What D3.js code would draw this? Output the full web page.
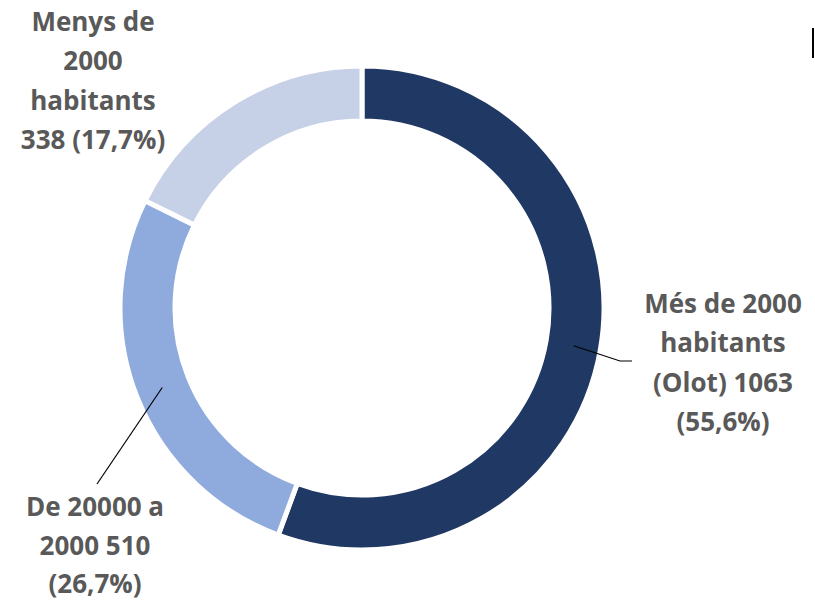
<!DOCTYPE html>
<html>
<head>
<meta charset="utf-8">
<script src="https://cdn.jsdelivr.net/npm/d3@7"></script>
<style>
  body { margin: 0; background: #fff; }
  svg text { font-family: "Open Sans", sans-serif; font-weight: bold; fill: #595959; }
</style>
</head>
<body>
<div id="container"></div>
<script>
const categories = ["Més de 2000 habitants (Olot)", "De 20000 a 2000", "Menys de 2000 habitants"];
const values     = [1063, 510, 338];
const percents   = ["55,6%", "26,7%", "17,7%"];
const labelLines = [
  ["Més de 2000", "habitants", "(Olot) 1063", "(55,6%)"],
  ["De 20000 a", "2000 510", "(26,7%)"],
  ["Menys de", "2000", "habitants", "338 (17,7%)"]
];
const colors = ["#203864", "#8FAADC", "#C6D0E7"];

const width = 815, height = 600;
const cx = 362, cy = 308;
const outerR = 242, innerR = 187;

// label block placement (center x, first baseline y) and leader elbow
const labelPos = [
  { x: 723, y: 313, leader: [[620, 361], [632, 361]], step: 39.3 },
  { x: 95,  y: 516, leader: [[97, 484]], step: 38.5 },
  { x: 93,  y: 31,  leader: null, step: 39.3 }
];

const svg = d3.select("#container").append("svg")
  .attr("width", width)
  .attr("height", height);

const g = svg.append("g").attr("transform", `translate(${cx},${cy})`);

const pie = d3.pie().sort(null).value(d => d)(values);
const arc = d3.arc().innerRadius(innerR).outerRadius(outerR);
const mid = d3.arc().innerRadius(215).outerRadius(215);

g.selectAll("path.slice")
  .data(pie)
  .join("path")
    .attr("class", "slice")
    .attr("d", arc)
    .attr("fill", (d, i) => colors[i])
    .attr("stroke", "#fff")
    .attr("stroke-width", 5);

// leader lines
pie.forEach((d, i) => {
  const lp = labelPos[i];
  if (!lp.leader) return;
  const [mx, my] = mid.centroid(d);
  const pts = [[mx + cx, my + cy], ...lp.leader];
  svg.append("path")
    .attr("d", d3.line()(pts))
    .attr("fill", "none")
    .attr("stroke", "#000")
    .attr("stroke-width", 1.2);
});

// labels
labelLines.forEach((lines, i) => {
  const lp = labelPos[i];
  const t = svg.append("text")
    .attr("text-anchor", "middle")
    .attr("font-size", 26);
  lines.forEach((s, j) => {
    t.append("tspan")
      .attr("x", lp.x)
      .attr("y", lp.y + j * lp.step)
      .text(s);
  });
});

// clipped edge of the frame at top right
svg.append("rect")
  .attr("x", 812).attr("y", 28)
  .attr("width", 2).attr("height", 30)
  .attr("fill", "#000");
</script>
</body>
</html>
